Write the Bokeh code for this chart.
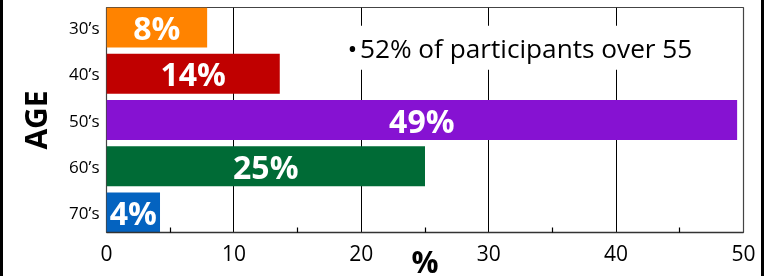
from bokeh.plotting import figure
from bokeh.models import Range1d, FixedTicker, Label
from bokeh.core.properties import value
from bokeh.embed import file_html
from bokeh.resources import INLINE

# ---- data (top to bottom as shown) ----
age_groups = ["30\u2019s", "40\u2019s", "50\u2019s", "60\u2019s", "70\u2019s"]
percentages = [7.9, 13.6, 49.5, 25.0, 4.2]
bar_labels = ["8%", "14%", "49%", "25%", "4%"]
bar_colors = ["#FF8300", "#C00000", "#8612D2", "#006B36", "#0463C0"]
x_ticks = [0, 10, 20, 30, 40, 50]
x_minor_ticks = [5, 15, 25, 35, 45]
x_title = "%"
y_title = "AGE"
note_text = "\u2022\u200a52% of participants over 55"

n = len(age_groups)
ypos = [n - 1 - i for i in range(n)]
bar_h = 0.865

FONT = "Open Sans"

p = figure(frame_width=637, frame_height=225,
           output_backend="svg", toolbar_location=None,
           x_range=Range1d(0, 50),
           y_range=Range1d(-bar_h / 2, n - 1 + bar_h / 2),
           min_border_left=103, min_border_right=18,
           min_border_top=7, min_border_bottom=44,
           background_fill_color="white", border_fill_color="white")
p.styles = {"position": "fixed", "left": "0px", "top": "0px",
            "box-sizing": "content-box",
            "border-left": "3px solid black", "border-right": "3px solid black"}

p.outline_line_color = "#444444"
p.outline_line_width = 1.2

p.hbar(y=ypos, right=percentages, left=0, height=bar_h,
       fill_color=bar_colors, line_color=None)

p.text(x=[v / 2 for v in percentages], y=ypos, text=bar_labels,
       text_color="white", text_font=value(FONT), text_font_style="bold",
       text_font_size="32px", text_align="center", text_baseline="middle")

# x axis
xa = p.xaxis[0]
xa.ticker = FixedTicker(ticks=x_ticks, minor_ticks=x_minor_ticks)
xa.major_tick_in = 0
xa.major_tick_out = 0
xa.minor_tick_in = 5
xa.minor_tick_out = 0
xa.minor_tick_line_color = "black"
xa.minor_tick_line_width = 1.2
xa.axis_line_color = "#333333"
xa.axis_line_width = 1.5
xa.major_label_text_font = FONT
xa.major_label_text_font_size = "21px"
xa.major_label_text_color = "black"
xa.major_label_standoff = 12
xa.axis_label = x_title
xa.axis_label_text_font = FONT
xa.axis_label_text_font_style = "bold"
xa.axis_label_text_font_size = "30px"
xa.axis_label_text_color = "black"
xa.axis_label_standoff = -23

# y axis
ya = p.yaxis[0]
ya.ticker = FixedTicker(ticks=ypos)
ya.major_label_overrides = {y: g for y, g in zip(ypos, age_groups)}
ya.major_tick_in = 0
ya.major_tick_out = 0
ya.minor_tick_in = 0
ya.minor_tick_out = 0
ya.axis_line_color = None
ya.major_label_text_font = FONT
ya.major_label_text_font_size = "17px"
ya.major_label_text_color = "black"
ya.major_label_standoff = 7
ya.axis_label = y_title
ya.axis_label_text_font = FONT
ya.axis_label_text_font_style = "bold"
ya.axis_label_text_font_size = "30px"
ya.axis_label_text_color = "black"
ya.axis_label_standoff = 10

# grid
p.xgrid.ticker = FixedTicker(ticks=x_ticks)
p.xgrid.grid_line_color = "black"
p.xgrid.grid_line_width = 1
p.ygrid.grid_line_color = None

note = Label(x=18.6, y=3.56, text=note_text, text_font=FONT,
             text_font_size="26.2px", text_color="black",
             text_align="left", text_baseline="middle",
             background_fill_color="white", padding=4)
p.add_layout(note)

open("out.html", "w").write(file_html(p, INLINE))
